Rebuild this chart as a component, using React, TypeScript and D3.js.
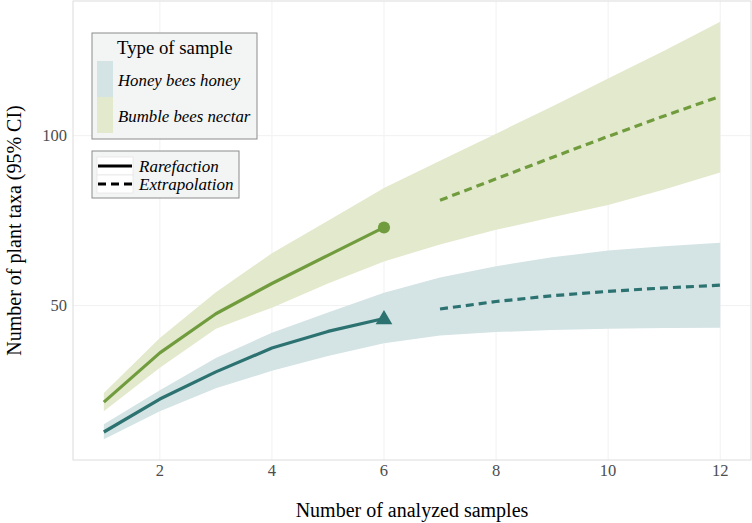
// Rarefaction / extrapolation curves - honey vs nectar samples
import React, { useEffect, useRef } from 'react';
import * as d3 from 'd3';

const samples = [1, 2, 3, 4, 5, 6, 7, 8, 9, 10, 11, 12];
const observedSamples = 6;

const honeyMean = [12.8, 22.5, 30.5, 37.5, 42.4, 46.2, 49.0, 51.2, 52.9, 54.2, 55.2, 56.0];
const honeyLower = [10.7, 18.9, 25.7, 30.8, 35.2, 38.9, 41.2, 42.2, 42.8, 43.2, 43.4, 43.5];
const honeyUpper = [15.1, 25.1, 34.6, 42.0, 48.0, 53.8, 58.3, 61.6, 64.2, 66.2, 67.5, 68.5];

const bumbleMean = [21.6, 36.1, 47.6, 56.5, 64.8, 73.0, 81.0, 87.3, 93.6, 99.8, 105.8, 111.6];
const bumbleLower = [18.9, 31.7, 43.2, 49.4, 56.5, 63.0, 68.0, 72.3, 76.0, 79.6, 84.2, 89.2];
const bumbleUpper = [24.3, 40.5, 53.9, 65.4, 75.0, 84.6, 92.6, 100.6, 108.6, 116.8, 125.0, 133.5];

const xTicks = [2, 4, 6, 8, 10, 12];
const yTicks = [50, 100];

const sampleTypes = ['Honey bees honey', 'Bumble bees nectar'];
const methodLabels = ['Rarefaction', 'Extrapolation'];

const FONT = '"Liberation Serif", "Times New Roman", serif';

const App: React.FC = () => {
  const svgRef = useRef<SVGSVGElement>(null);

  useEffect(() => {
    if (!svgRef.current) return;
    const svg = d3.select(svgRef.current);
    svg.selectAll('*').remove();

    const width = 752;
    const height = 523;
    const panel = { left: 73, right: 751, top: 1, bottom: 460 };

    // ggplot style 5% expansion of the data range
    const xExt = d3.extent(samples) as [number, number];
    const xPad = (xExt[1] - xExt[0]) * 0.05;
    const x = d3.scaleLinear()
      .domain([xExt[0] - xPad, xExt[1] + xPad])
      .range([panel.left, panel.right]);

    const yMin = d3.min([...honeyLower, ...bumbleLower]) as number;
    const yMax = d3.max([...honeyUpper, ...bumbleUpper]) as number;
    const yPad = (yMax - yMin) * 0.05;
    const y = d3.scaleLinear()
      .domain([yMin - yPad, yMax + yPad])
      .range([panel.bottom, panel.top]);

    svg.append('rect')
      .attr('width', width)
      .attr('height', height)
      .attr('fill', '#ffffff');

    // grid
    const grid = svg.append('g');
    grid.selectAll('.vgrid')
      .data(xTicks)
      .enter()
      .append('line')
      .attr('x1', d => x(d))
      .attr('x2', d => x(d))
      .attr('y1', panel.top)
      .attr('y2', panel.bottom)
      .attr('stroke', '#f1f1f1')
      .attr('stroke-width', 1);
    grid.selectAll('.hgrid')
      .data(yTicks)
      .enter()
      .append('line')
      .attr('x1', panel.left)
      .attr('x2', panel.right)
      .attr('y1', d => y(d))
      .attr('y2', d => y(d))
      .attr('stroke', '#f1f1f1')
      .attr('stroke-width', 1);

    const series = [
      { name: sampleTypes[0], mean: honeyMean, lower: honeyLower, upper: honeyUpper, line: '#2b7271', band: '#d4e3e4', shape: 'triangle' },
      { name: sampleTypes[1], mean: bumbleMean, lower: bumbleLower, upper: bumbleUpper, line: '#709c3e', band: '#e3e9cc', shape: 'circle' }
    ];

    // confidence bands
    series.slice().reverse().forEach(s => {
      const bandArea = d3.area<number>()
        .x(i => x(samples[i]))
        .y0(i => y(s.lower[i]))
        .y1(i => y(s.upper[i]));
      svg.append('path')
        .attr('d', bandArea(d3.range(samples.length)) as string)
        .attr('fill', s.band)
        .attr('stroke', 'none');
    });

    series.forEach(s => {
      const path = d3.line<number>()
        .x(i => x(samples[i]))
        .y(i => y(s.mean[i]));
      const rare = d3.range(samples.length).filter(i => samples[i] <= observedSamples);
      const extra = d3.range(samples.length).filter(i => samples[i] > observedSamples);

      svg.append('path')
        .attr('d', path(rare) as string)
        .attr('fill', 'none')
        .attr('stroke', s.line)
        .attr('stroke-width', 3.2)
        .attr('stroke-linejoin', 'round');

      svg.append('path')
        .attr('d', path(extra) as string)
        .attr('fill', 'none')
        .attr('stroke', s.line)
        .attr('stroke-width', 3.2)
        .attr('stroke-dasharray', '8,5');

      const oi = samples.indexOf(observedSamples);
      const symbol = d3.symbol()
        .type(s.shape === 'circle' ? d3.symbolCircle : d3.symbolTriangle)
        .size(s.shape === 'circle' ? 115 : 120);
      svg.append('path')
        .attr('transform', `translate(${x(samples[oi])},${y(s.mean[oi]) + (s.shape === 'circle' ? 0 : 1)})`)
        .attr('d', symbol() as string)
        .attr('fill', s.line);
    });

    // panel border
    svg.append('rect')
      .attr('x', panel.left)
      .attr('y', panel.top)
      .attr('width', panel.right - panel.left)
      .attr('height', panel.bottom - panel.top)
      .attr('fill', 'none')
      .attr('stroke', '#dcdcdc')
      .attr('stroke-width', 1);

    // axis tick labels
    svg.selectAll('.xtick')
      .data(xTicks)
      .enter()
      .append('text')
      .attr('x', d => x(d))
      .attr('y', panel.bottom + 16)
      .attr('text-anchor', 'middle')
      .attr('font-family', FONT)
      .attr('font-size', '16.5px')
      .attr('fill', '#4d4d4d')
      .text(d => d);

    svg.selectAll('.ytick')
      .data(yTicks)
      .enter()
      .append('text')
      .attr('x', panel.left - 6)
      .attr('y', d => y(d))
      .attr('dy', '0.35em')
      .attr('text-anchor', 'end')
      .attr('font-family', FONT)
      .attr('font-size', '16.5px')
      .attr('fill', '#4d4d4d')
      .text(d => d);

    // axis titles
    svg.append('text')
      .attr('x', (panel.left + panel.right) / 2)
      .attr('y', 517)
      .attr('text-anchor', 'middle')
      .attr('font-family', FONT)
      .attr('font-size', '20px')
      .attr('fill', '#000')
      .text('Number of analyzed samples');

    svg.append('text')
      .attr('transform', `translate(21,${(panel.top + panel.bottom) / 2}) rotate(-90)`)
      .attr('text-anchor', 'middle')
      .attr('font-family', FONT)
      .attr('font-size', '20px')
      .attr('fill', '#000')
      .text('Number of plant taxa (95% CI)');

    // legend: sample type
    const lg1 = svg.append('g').attr('transform', 'translate(92,33)');
    lg1.append('rect')
      .attr('width', 165)
      .attr('height', 106)
      .attr('fill', '#f3f4f4')
      .attr('stroke', '#8c8c8c')
      .attr('stroke-width', 1);
    lg1.append('text')
      .attr('x', 25)
      .attr('y', 21)
      .attr('font-family', FONT)
      .attr('font-size', '18.8px')
      .attr('fill', '#000')
      .text('Type of sample');
    series.forEach((s, i) => {
      lg1.append('rect')
        .attr('x', 5)
        .attr('y', 28 + i * 36)
        .attr('width', 16)
        .attr('height', 36)
        .attr('fill', s.band);
      lg1.append('text')
        .attr('x', 26)
        .attr('y', 47 + i * 36)
        .attr('dy', '0.35em')
        .attr('font-family', FONT)
        .attr('font-size', '16.8px')
        .attr('font-style', 'italic')
        .attr('fill', '#000')
        .text(s.name);
    });

    // legend: method
    const lg2 = svg.append('g').attr('transform', 'translate(92,151)');
    lg2.append('rect')
      .attr('width', 147)
      .attr('height', 47)
      .attr('fill', '#f3f4f4')
      .attr('stroke', '#8c8c8c')
      .attr('stroke-width', 1);
    methodLabels.forEach((m, i) => {
      lg2.append('rect')
        .attr('x', 5)
        .attr('y', 6 + i * 18)
        .attr('width', 36)
        .attr('height', 18)
        .attr('fill', '#ffffff')
        .attr('stroke', '#e6e6e6')
        .attr('stroke-width', 0.8);
      lg2.append('line')
        .attr('x1', 6)
        .attr('x2', 40)
        .attr('y1', 15 + i * 18)
        .attr('y2', 15 + i * 18)
        .attr('stroke', '#000')
        .attr('stroke-width', 3)
        .attr('stroke-dasharray', i === 1 ? '8,5' : null);
      lg2.append('text')
        .attr('x', 47)
        .attr('y', 15 + i * 18)
        .attr('dy', '0.35em')
        .attr('font-family', FONT)
        .attr('font-size', '17px')
        .attr('font-style', 'italic')
        .attr('fill', '#000')
        .text(m);
    });
  }, []);

  return (
    <svg
      ref={svgRef}
      width={752}
      height={523}
      style={{ position: 'absolute', left: 0, top: 0, display: 'block' }}
    />
  );
};

export default App;
